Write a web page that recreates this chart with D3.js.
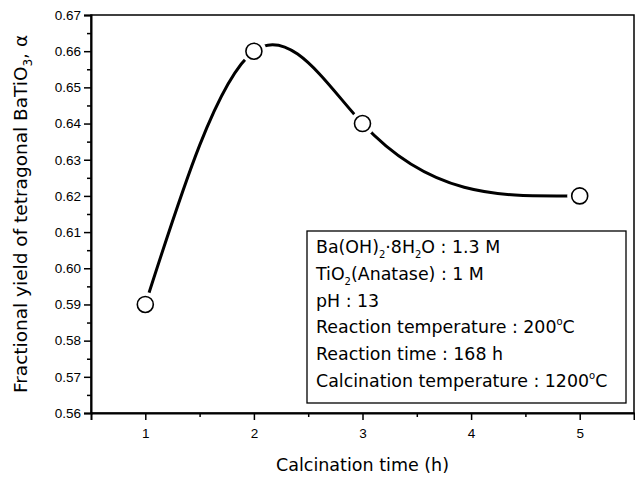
<!DOCTYPE html>
<html>
<head>
<meta charset="utf-8">
<script src="https://cdn.jsdelivr.net/npm/d3@7"></script>
<style>
  body { margin: 0; background: #fff; }
  svg { font-family: "DejaVu Sans", "Liberation Sans", Arial, sans-serif; }
</style>
</head>
<body>
<svg id="chart" width="635" height="477"></svg>
<script>
// data
var calcTime = [1, 2, 3, 5];
var alphaYield = [0.59, 0.66, 0.64, 0.62];
var xTicks = [1, 2, 3, 4, 5];
var yTicks = [0.56, 0.57, 0.58, 0.59, 0.60, 0.61, 0.62, 0.63, 0.64, 0.65, 0.66, 0.67];
var legendLines = [
  ["Ba(OH)", {sub: "2"}, "·8H", {sub: "2"}, "O : 1.3 M"],
  ["TiO", {sub: "2"}, "(Anatase) : 1 M"],
  ["pH : 13"],
  ["Reaction temperature : 200", {sup: "o"}, "C"],
  ["Reaction time : 168 h"],
  ["Calcination temperature : 1200", {sup: "o"}, "C"]
];

var margin = { top: 15, right: 1, bottom: 64, left: 91 };
var svg = d3.select("#chart");
var width = 635 - margin.left - margin.right,
  height = 477 - margin.top - margin.bottom;

var g = svg.append("g").attr("transform", "translate(" + margin.left + "," + margin.top + ")");

var x = d3.scaleLinear().domain([0.5, 5.5]).range([0, width]);
var y = d3.scaleLinear().domain([0.56, 0.67]).range([height, 0]);

// frame
g.append("rect")
  .attr("width", width).attr("height", height)
  .attr("fill", "none").attr("stroke", "#000").attr("stroke-width", 1.5);

// x axis + minor ticks
g.append("g")
  .attr("transform", "translate(0," + height + ")")
  .call(d3.axisBottom(x).tickValues(d3.range(1.5, 5.5, 1)).tickSize(4).tickFormat(""))
  .call(function (a) { a.select(".domain").remove(); a.selectAll("line").attr("stroke-width", 1.5); });
var xAxis = g.append("g")
  .attr("transform", "translate(0," + height + ")")
  .call(d3.axisBottom(x).tickValues(xTicks).tickSize(7).tickPadding(8).tickFormat(d3.format("d")));
xAxis.select(".domain").attr("stroke-width", 2);
xAxis.selectAll("line").attr("stroke-width", 1.5);
xAxis.selectAll("text").attr("font-size", 13.5).attr("fill", "#000");

// y axis + minor ticks
g.append("g")
  .call(d3.axisLeft(y).tickValues(d3.range(0.565, 0.67, 0.01)).tickSize(4).tickFormat(""))
  .call(function (a) { a.select(".domain").remove(); a.selectAll("line").attr("stroke-width", 1.5); });
var yAxis = g.append("g")
  .call(d3.axisLeft(y).tickValues(yTicks).tickSize(7).tickPadding(3).tickFormat(d3.format(".2f")));
yAxis.select(".domain").attr("stroke-width", 2);
yAxis.selectAll("line").attr("stroke-width", 1.5);
yAxis.selectAll("text").attr("font-size", 13.5).attr("fill", "#000");

// axis titles
svg.append("text")
  .attr("x", margin.left + x(3)).attr("y", 471)
  .attr("text-anchor", "middle").attr("font-size", 17.5)
  .text("Calcination time (h)");

var yt = svg.append("text")
  .attr("transform", "translate(27," + (margin.top + height / 2) + ") rotate(-90)")
  .attr("text-anchor", "middle").attr("font-size", 18.5);
yt.append("tspan").text("Fractional yield of tetragonal BaTiO");
yt.append("tspan").attr("font-size", 12).attr("dy", 5).text("3");
yt.append("tspan").attr("dy", -5).text(", α");

// cubic spline through the points: natural at the left end, flat at the right end
function splineSlopes(xs, ys) {
  var n = xs.length, h = [], a = [], b = [], c = [], r = [];
  for (var i = 0; i < n - 1; i++) h.push(xs[i + 1] - xs[i]);
  // unknowns: second derivatives M0..M(n-1)
  a[0] = 0; b[0] = 1; c[0] = 0; r[0] = 0;
  for (var i = 1; i < n - 1; i++) {
    a[i] = h[i - 1]; b[i] = 2 * (h[i - 1] + h[i]); c[i] = h[i];
    r[i] = 6 * ((ys[i + 1] - ys[i]) / h[i] - (ys[i] - ys[i - 1]) / h[i - 1]);
  }
  var k = n - 1;
  a[k] = h[k - 1]; b[k] = 2 * h[k - 1]; c[k] = 0;
  r[k] = 6 * (0 - (ys[k] - ys[k - 1]) / h[k - 1]);
  for (var i = 1; i < n; i++) {
    var w = a[i] / b[i - 1];
    b[i] -= w * c[i - 1]; r[i] -= w * r[i - 1];
  }
  var M = [];
  M[k] = r[k] / b[k];
  for (var i = k - 1; i >= 0; i--) M[i] = (r[i] - c[i] * M[i + 1]) / b[i];
  var m = [];
  for (var i = 0; i < n - 1; i++) m.push((ys[i + 1] - ys[i]) / h[i] - h[i] * (2 * M[i] + M[i + 1]) / 6);
  m.push(0);
  return m;
}

var slopes = splineSlopes(calcTime, alphaYield);
var p = d3.path();
p.moveTo(x(calcTime[0]), y(alphaYield[0]));
for (var i = 0; i < calcTime.length - 1; i++) {
  var h3 = (calcTime[i + 1] - calcTime[i]) / 3;
  p.bezierCurveTo(
    x(calcTime[i] + h3), y(alphaYield[i] + slopes[i] * h3),
    x(calcTime[i + 1] - h3), y(alphaYield[i + 1] - slopes[i + 1] * h3),
    x(calcTime[i + 1]), y(alphaYield[i + 1]));
}
g.append("path")
  .attr("d", p.toString())
  .attr("fill", "none").attr("stroke", "#000").attr("stroke-width", 3);

// markers with a white gap round them
var pts = calcTime.map(function (d, i) { return { t: d, v: alphaYield[i] }; });
g.selectAll(".gap").data(pts).enter().append("circle")
  .attr("cx", function (d) { return x(d.t); })
  .attr("cy", function (d) { return y(d.v); })
  .attr("r", 12.5).attr("fill", "#fff");
g.selectAll(".dot").data(pts).enter().append("circle")
  .attr("cx", function (d) { return x(d.t); })
  .attr("cy", function (d) { return y(d.v); })
  .attr("r", 8).attr("fill", "#fff").attr("stroke", "#000").attr("stroke-width", 1.6);

// legend box
var lg = svg.append("g").attr("transform", "translate(307,231)");
lg.append("rect").attr("width", 319).attr("height", 172)
  .attr("fill", "#fff").attr("stroke", "#000").attr("stroke-width", 1.3);
legendLines.forEach(function (parts, i) {
  var t = lg.append("text").attr("x", 9).attr("y", 22 + i * 26.8).attr("font-size", 17.4);
  var shift = 0;
  parts.forEach(function (q) {
    var s = t.append("tspan");
    if (typeof q === "string") {
      s.attr("dy", -shift).text(q); shift = 0;
    } else if (q.sub) {
      s.attr("font-size", 10).attr("dy", 5 - shift).text(q.sub); shift = 5;
    } else {
      s.attr("font-size", 10).attr("dy", -8 - shift).text(q.sup); shift = -8;
    }
  });
});
</script>
</body>
</html>
